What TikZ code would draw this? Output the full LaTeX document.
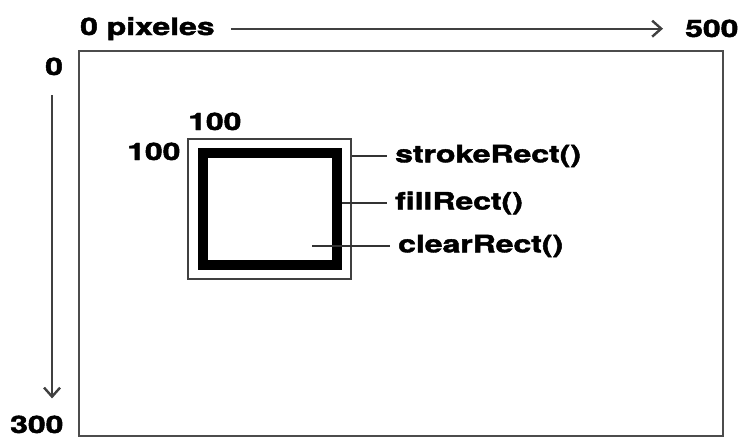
\documentclass[tikz,border=0pt]{standalone}
\usepackage{fontspec}
\setmainfont[BoldFeatures={FakeBold=1.6}]{TeX Gyre Heros}
\usetikzlibrary{positioning}
\usetikzlibrary{arrows.meta}
\tikzstyle{lbl}=[font=\fontsize{24}{28}\selectfont\bfseries, inner sep=0pt]
\tikzstyle{frame}=[draw=black!70, line width=2pt]
\tikzstyle{edge}=[draw=black!75, line width=2pt, -{Straight Barb[length=9pt,width=16pt,line width=2.4pt]}]
\tikzstyle{lead}=[draw=black!80, line width=1.4pt]
\newcommand{\wide}[1]{\scalebox{1.33}[1]{#1}}

\begin{document}
\begin{tikzpicture}[x=1pt, y=-1pt]

  \fill[white] (0,0) rectangle (740,437);
  \useasboundingbox (0,0) rectangle (740,437);

  % canvas
  \draw[frame] (79,51) rectangle (723,436);

  % axis labels
  \node[lbl, anchor=base west] (pix) at (80,35) {\wide{0 pixeles}};
  \node[lbl, anchor=base west] (w500) at (685,37) {\wide{500}};
  \node[lbl, anchor=base west] (zero) at (45,75) {\wide{0}};
  \node[lbl, anchor=base west] (h300) at (10,433) {\wide{300}};

  \draw[edge, shorten <=16pt, shorten >=22pt] (pix.east) -- (pix.east -| w500.west);
  \draw[edge, shorten <=20pt, shorten >=17pt] ([xshift=-2pt]zero.south) -- ([xshift=-2pt]zero.south |- h300.north);

  % rectangles
  \draw[black!75, line width=1.3pt] (188,139) rectangle (351,279);
  \draw[black, line width=10pt] (203,153) rectangle (337,265);

  \node[lbl, anchor=base west] (top100) at (188,130) {\wide{100}};
  \node[lbl, anchor=base west] (left100) at (127,160) {\wide{100}};

  % methods
  \foreach \x/\lx/\y/\name/\label in {352/395/156/sr/strokeRect(), 342/395/203/fr/fillRect(), 312/398/246/cr/clearRect()}
  {
    \coordinate (\name) at (\x,\y);
    \node[lbl, anchor=west] (\name txt) at (\lx,\y) {\wide{\label}};
    \draw[lead, shorten >=8pt] (\name) -- (\name txt.west);
  }

\end{tikzpicture}
\end{document}
